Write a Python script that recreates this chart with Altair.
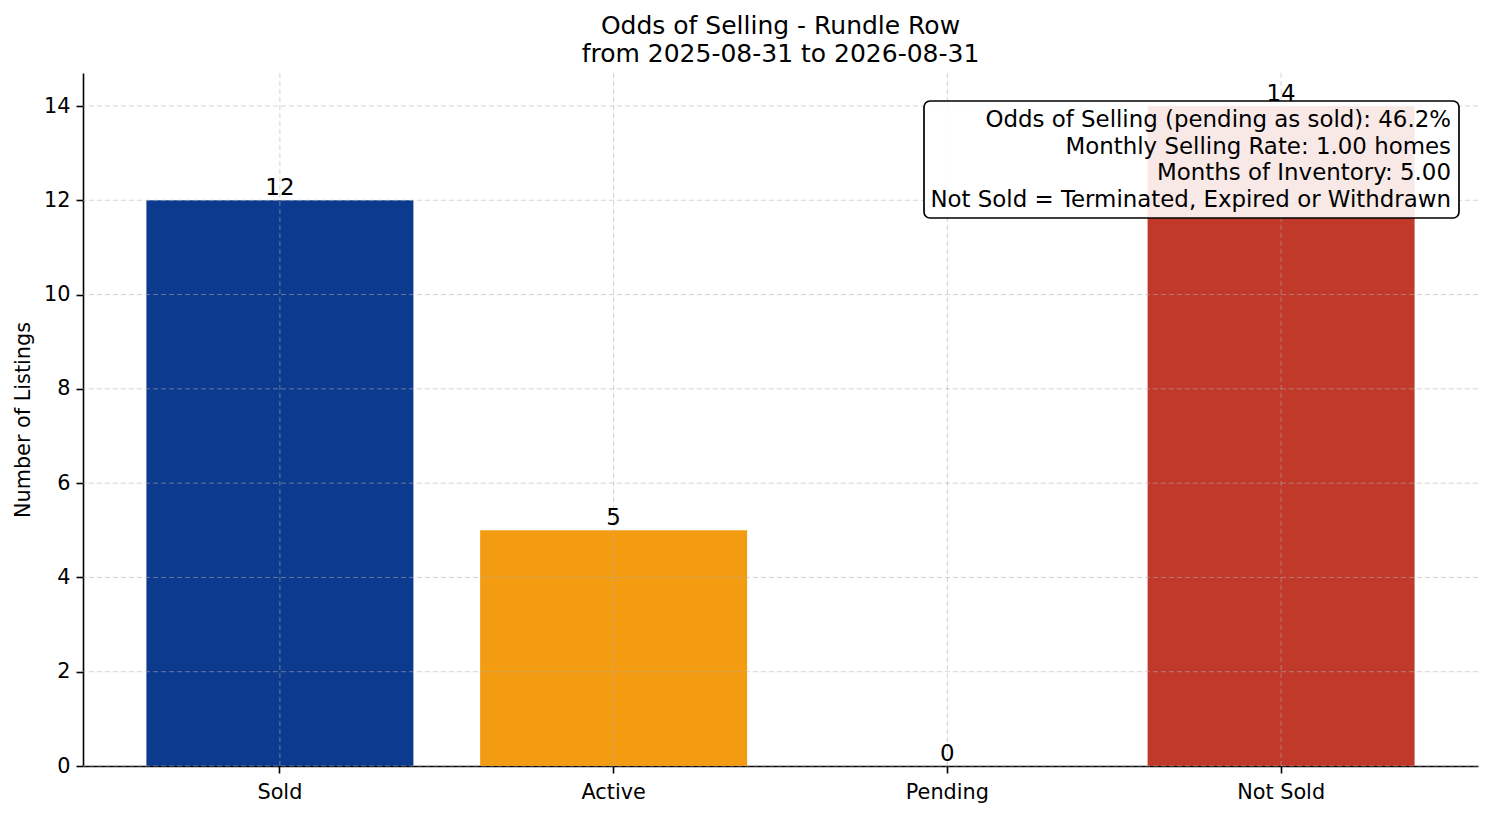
import altair as alt
import pandas as pd

categories = ["Sold", "Active", "Pending", "Not Sold"]
counts = [12, 5, 0, 14]
bar_colors = ["#0B3A8E", "#F39C12", "#7F8C8D", "#C0392B"]
y_ticks = [0, 2, 4, 6, 8, 10, 12, 14]
title_lines = ["Odds of Selling - Rundle Row", "from 2025-08-31 to 2026-08-31"]
info_lines = [
    "Odds of Selling (pending as sold): 46.2%",
    "Monthly Selling Rate: 1.00 homes",
    "Months of Inventory: 5.00",
    "Not Sold = Terminated, Expired or Withdrawn",
]

FONT = "DejaVu Sans"
W, H = 1395, 693

df = pd.DataFrame({"status": categories, "count": counts, "color": bar_colors})
grid_df = pd.DataFrame({"tick": y_ticks})

xscale = alt.Scale(domain=categories, paddingInner=0.2, paddingOuter=0.19)
yscale = alt.Scale(domain=[0, 14.7], nice=False, zero=True)

x_enc = alt.X(
    "status:N",
    sort=categories,
    scale=xscale,
    axis=alt.Axis(
        title=None,
        labelAngle=0,
        labelFontSize=20.8,
        labelFont=FONT,
        labelColor="#000000",
        tickSize=7,
        tickWidth=1.6,
        tickColor="#000000",
        labelPadding=9,
        domainColor="#000000",
        domainWidth=1.6,
        grid=False,
    ),
)
y_enc = alt.Y(
    "count:Q",
    scale=yscale,
    axis=alt.Axis(
        title="Number of Listings",
        titleFont=FONT,
        titleFontSize=20.8,
        titleFontWeight="normal",
        titleColor="#000000",
        titlePadding=10,
        values=y_ticks,
        format="d",
        labelFontSize=20.8,
        labelFont=FONT,
        labelColor="#000000",
        tickSize=7,
        tickWidth=1.6,
        tickColor="#000000",
        labelPadding=6,
        domainColor="#000000",
        domainWidth=1.6,
        grid=False,
    ),
)

base = alt.Chart(df)

bars = base.mark_bar().encode(
    x=x_enc,
    y=y_enc,
    color=alt.Color("color:N", scale=None, legend=None),
)

hgrid = alt.Chart(grid_df).mark_rule(
    color="#b0b0b0", strokeWidth=1.0, strokeDash=[5, 3], opacity=0.55
).encode(y=alt.Y("tick:Q", scale=yscale))

vgrid = base.mark_rule(
    color="#b0b0b0", strokeWidth=1.0, strokeDash=[5, 3], opacity=0.55
).encode(x=alt.X("status:N", sort=categories, scale=xscale))

labels = base.mark_text(
    baseline="alphabetic", dy=-5, fontSize=22.9, font=FONT, color="#000000"
).encode(
    x=alt.X("status:N", sort=categories, scale=xscale),
    y=alt.Y("count:Q", scale=yscale),
    text=alt.Text("count:Q", format="d"),
)

box = alt.Chart(df).mark_rect(
    fill="#ffffff", fillOpacity=0.89, stroke="#000000", strokeWidth=1.7, cornerRadius=6
).encode(
    x=alt.value(841), x2=alt.value(1376), y=alt.value(28), y2=alt.value(145)
).transform_filter(alt.datum.status == "Sold")

info = alt.Chart(df).mark_text(
    text=info_lines,
    align="right",
    baseline="middle",
    lineHeight=26.7,
    fontSize=22.9,
    font=FONT,
    color="#000000",
).encode(x=alt.value(1368), y=alt.value(47)).transform_filter(alt.datum.status == "Sold")

chart = (
    alt.layer(bars, hgrid, vgrid, labels, box, info)
    .properties(
        width=W,
        height=H,
        title=alt.TitleParams(
            text=title_lines,
            font=FONT,
            fontSize=25,
            fontWeight="normal",
            color="#000000",
            anchor="middle",
            lineHeight=28,
            offset=6,
        ),
        autosize=alt.AutoSizeParams(type="none"),
        padding={"left": 75, "top": 65, "right": 8, "bottom": 41},
    )
    .configure_view(strokeWidth=0)
)

chart.save("out.html", embed_options={"renderer": "svg", "actions": False})
